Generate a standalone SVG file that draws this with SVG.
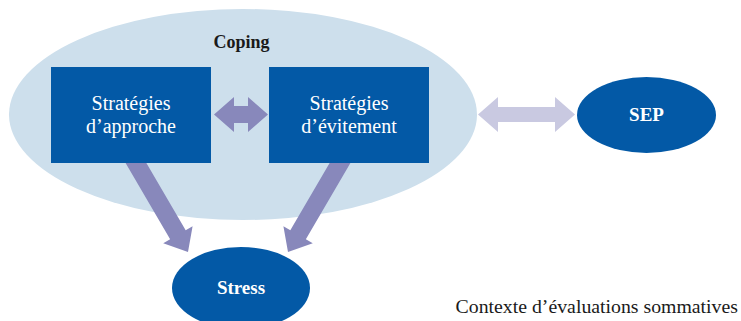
<svg xmlns="http://www.w3.org/2000/svg" width="741" height="321" viewBox="0 0 741 321">
<style>
.blue{fill:#0359a6}
.arr{fill:#8888bb}
.arr2{fill:#c9c9e1}
text{font-family:'Liberation Serif','DejaVu Serif',serif}
.wt{fill:#ffffff;font-size:20px;text-anchor:middle}
.bt{font-weight:bold;font-size:19px}
.dk{fill:#1a1a1a;font-size:19.8px}
</style>
<rect width="741" height="321" fill="#ffffff"/>
<g id="coping">
<ellipse cx="243" cy="114.5" rx="234" ry="105.5" fill="#cddfec"/>
<text x="241.5" y="48" class="dk bt" text-anchor="middle" style="font-size:18px">Coping</text>
</g>
<g id="connectors">
<polygon class="arr" points="214,114.5 234,97 234,106 248,106 248,97 268,114.5 248,132 248,123 234,123 234,132"/>
<polygon class="arr2" points="478,114.5 498,97 498,107 555,107 555,97 575,114.5 555,132 555,122 498,122 498,132"/>
<polygon class="arr" transform="translate(188,252) rotate(59.7)" points="0,0 -20,-17 -20,-9 -115,-9 -115,9 -20,9 -20,17"/>
<polygon class="arr" transform="translate(288,252) rotate(120.3)" points="0,0 -20,-17 -20,-9 -115,-9 -115,9 -20,9 -20,17"/>
</g>
<g id="approche">
<rect class="blue" x="51" y="67" width="160" height="96"/>
<text class="wt" x="131" y="110">Stratégies</text>
<text class="wt" x="131" y="133">d’approche</text>
</g>
<g id="evitement">
<rect class="blue" x="269" y="67" width="160" height="96"/>
<text class="wt" x="349" y="110">Stratégies</text>
<text class="wt" x="349" y="133">d’évitement</text>
</g>
<g id="sep">
<ellipse class="blue" cx="646.5" cy="115" rx="69.5" ry="38"/>
<text class="wt bt" x="646.5" y="121">SEP</text>
</g>
<g id="stress">
<ellipse class="blue" cx="241" cy="288" rx="69" ry="41"/>
<text class="wt bt" x="241" y="294">Stress</text>
</g>
<text class="dk" x="738" y="313" text-anchor="end">Contexte d’évaluations sommatives</text>
</svg>
